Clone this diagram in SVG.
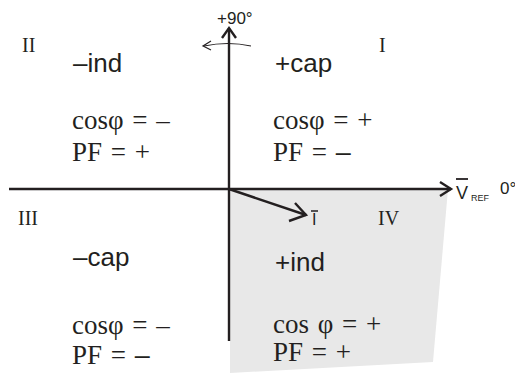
<svg xmlns="http://www.w3.org/2000/svg" width="515" height="374" viewBox="0 0 515 374">
<defs>
<style>
.ax{stroke:#231f20;stroke-width:2.4;fill:none}
.ser{font-family:"Liberation Serif",serif;fill:#231f20}
.san{font-family:"Liberation Sans",Arial,sans-serif;fill:#231f20}
.q{font-size:20px}
.big{font-size:26px}
.eq{font-size:27px;word-spacing:2px}
.d{font-family:"Liberation Sans",Arial,sans-serif}
</style>
</defs>
<g id="quadrant-iv-shade"><polygon points="230,189 448,189 433,362 230,373" fill="#e8e8e8"/></g>
<g id="connectors">
<line class="ax" x1="9" y1="189" x2="451" y2="189"/>
<polyline class="ax" points="440,182 451,189 440,196"/>
<line class="ax" x1="229" y1="341" x2="229" y2="28"/>
<polyline class="ax" points="222,38 229,28 236,38"/>
<line class="ax" x1="229" y1="189" x2="306" y2="215"/>
<polyline class="ax" points="295,203 306,215 289,221"/>
<path d="M251,46 Q228,41 204,46" stroke="#231f20" stroke-width="1.2" fill="none"/>
<polyline points="211,41 203,46 211,50" stroke="#231f20" stroke-width="1.2" fill="none"/>
</g>
<g id="axis-labels">
<text class="san" x="217" y="24" font-size="17">+90°</text>
<text class="san" x="456" y="199" font-size="18">V</text>
<line x1="456" y1="179" x2="468" y2="179" stroke="#231f20" stroke-width="1.8"/>
<text class="san" x="471" y="201" font-size="9">REF</text>
<text class="san" x="500" y="194" font-size="17">0°</text>
<text class="san" x="312" y="225" font-size="16">I</text>
<line x1="311" y1="211" x2="318" y2="211" stroke="#231f20" stroke-width="1.5"/>
</g>
<g id="q2">
<text class="ser q" x="22" y="52">II</text>
<text class="san big" x="73" y="72">–ind</text>
<text class="ser eq" x="72" y="129">cosφ = –</text>
<text class="ser eq" x="72" y="161">PF = +</text>
</g>
<g id="q1">
<text class="ser q" x="379" y="52">I</text>
<text class="san big" x="275" y="72">+cap</text>
<text class="ser eq" x="273" y="129">cosφ = +</text>
<text class="ser eq" x="273" y="161">PF = <tspan class="d">–</tspan></text>
</g>
<g id="q3">
<text class="ser q" x="18" y="225">III</text>
<text class="san big" x="73" y="266">–cap</text>
<text class="ser eq" x="72" y="334">cosφ = –</text>
<text class="ser eq" x="72" y="364">PF = <tspan class="d">–</tspan></text>
</g>
<g id="q4">
<text class="ser q" x="378" y="225">IV</text>
<text class="san big" x="275" y="271">+ind</text>
<text class="ser eq" x="273" y="333">cos φ = +</text>
<text class="ser eq" x="273" y="361">PF = +</text>
</g>
</svg>
